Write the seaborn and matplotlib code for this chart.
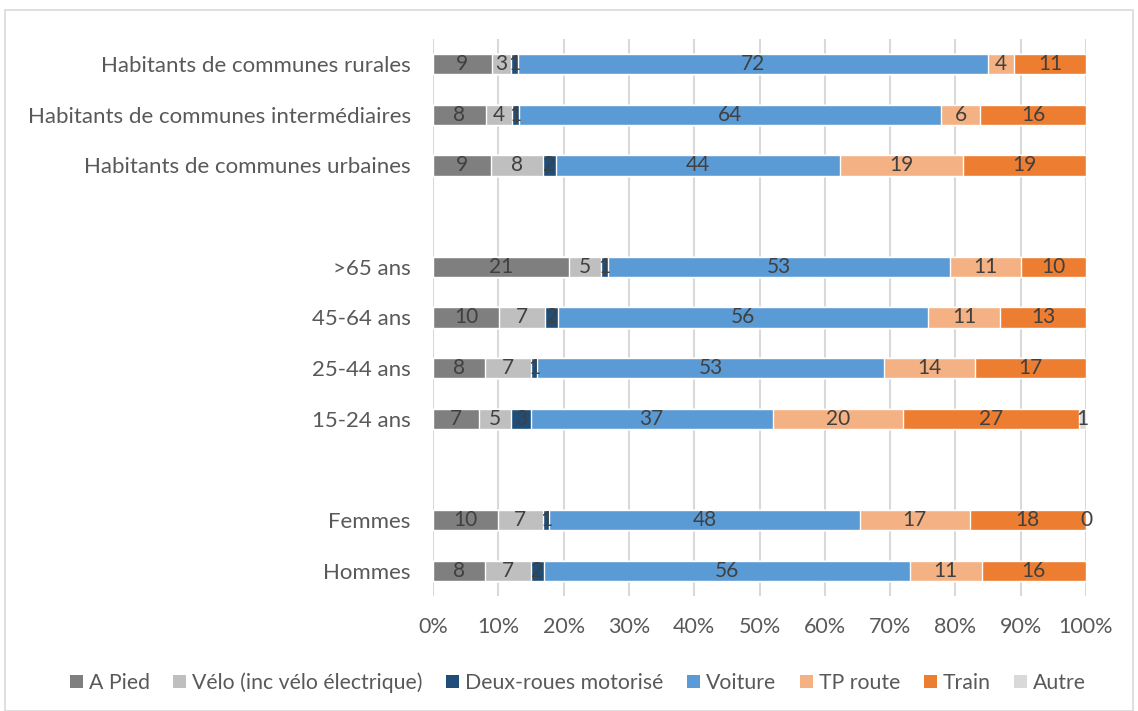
import numpy as np
import pandas as pd
import matplotlib
matplotlib.use("Agg")
import matplotlib.pyplot as plt
from matplotlib.patches import Patch, Rectangle
from matplotlib.ticker import PercentFormatter
import seaborn as sns

categories = ["Habitants de communes rurales", "Habitants de communes intermédiaires",
              "Habitants de communes urbaines", ">65 ans", "45-64 ans", "25-44 ans",
              "15-24 ans", "Femmes", "Hommes"]
row_order = [categories[0], categories[1], categories[2], " ",
             categories[3], categories[4], categories[5], categories[6], "  ",
             categories[7], categories[8]]

series_names = ["A Pied", "Vélo (inc vélo électrique)", "Deux-roues motorisé",
                "Voiture", "TP route", "Train", "Autre"]
a_pied = [9, 8, 9, 21, 10, 8, 7, 10, 8]
velo = [3, 4, 8, 5, 7, 7, 5, 7, 7]
deux_roues = [1, 1, 2, 1, 2, 1, 3, 1, 2]
voiture = [72, 64, 44, 53, 56, 53, 37, 48, 56]
tp_route = [4, 6, 19, 11, 11, 14, 20, 17, 11]
train = [11, 16, 19, 10, 13, 17, 27, 18, 16]
autre = [np.nan, np.nan, np.nan, np.nan, np.nan, np.nan, 1, 0, np.nan]

colors = ["#7F7F7F", "#BFBFBF", "#1F4E79", "#5B9BD5", "#F4B183", "#ED7D31", "#D9D9D9"]

sns.set_theme(style="white")
plt.rcParams["font.family"] = ["Lato", "DejaVu Sans"]

vals = np.array([a_pied, velo, deux_roues, voiture, tp_route, train, autre], dtype=float)
filled = np.nan_to_num(vals)
pct = filled / filled.sum(axis=0) * 100
cum = np.cumsum(pct, axis=0)

fig = plt.figure(figsize=(11.38, 7.11), dpi=100)
ax = fig.add_axes([0.3805, 0.1612, 0.5738, 0.7845])

for i in range(len(series_names) - 1, -1, -1):
    df = pd.DataFrame({"cat": categories, "v": cum[i]})
    sns.barplot(data=df, x="v", y="cat", order=row_order, orient="h",
                color=colors[i], saturation=1, width=0.4, errorbar=None,
                ax=ax, zorder=3)

for i in range(len(series_names)):
    for j, c in enumerate(categories):
        if np.isnan(vals[i, j]):
            continue
        y = row_order.index(c)
        x = cum[i, j] - pct[i, j] / 2
        ax.text(x, y, f"{int(vals[i, j])}", ha="center", va="center",
                fontsize=15, color="#404040", zorder=5)

ax.set_xlim(0, 100)
ax.set_ylim(len(row_order) - 0.5, -0.5)
ax.set_xticks(np.arange(0, 101, 10))
ax.xaxis.set_major_formatter(PercentFormatter(decimals=0))
ax.set_xlabel("")
ax.set_ylabel("")
for s in ax.spines.values():
    s.set_visible(False)
ax.grid(axis="x", color="#D9D9D9", linewidth=1.5, zorder=0)
ax.set_axisbelow(True)
ax.tick_params(axis="both", length=0, labelsize=15.5, colors="#595959")
ax.tick_params(axis="y", pad=16, labelsize=16)
ax.tick_params(axis="x", pad=15)

handles = [Patch(facecolor=c, edgecolor="none") for c in colors]
fig.legend(handles, series_names, loc="center", bbox_to_anchor=(0.508, 0.04),
           ncol=7, frameon=False, fontsize=15.3, handlelength=0.6, handleheight=0.6,
           handletextpad=0.3, columnspacing=1.1, labelcolor="#595959")

fig.patches.append(Rectangle((0.004, 0.0), 0.992, 0.986, transform=fig.transFigure,
                             fill=False, edgecolor="#D9D9D9", linewidth=1.2))

fig.savefig("out.png", dpi=100)
